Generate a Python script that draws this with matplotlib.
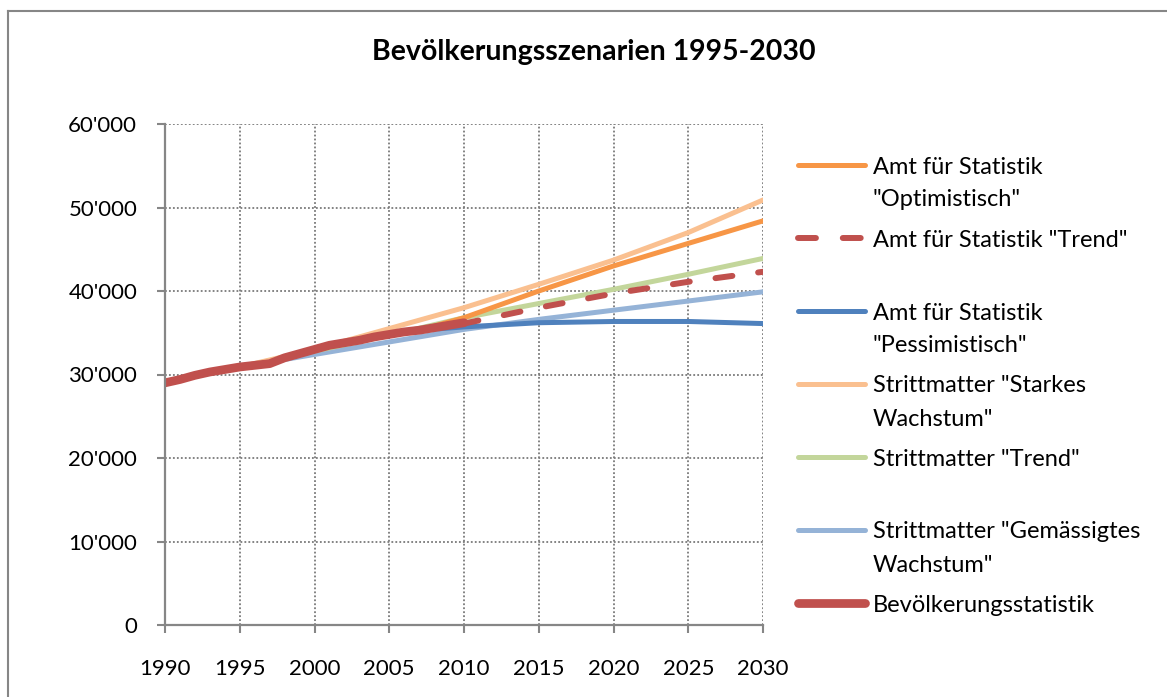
import matplotlib
matplotlib.use("Agg")
import matplotlib.pyplot as plt
from matplotlib.lines import Line2D
from matplotlib.ticker import FuncFormatter

# ---------------- data ----------------
years_hist = [1990, 1991, 1992, 1993, 1994, 1995, 1996, 1997, 1998, 1999, 2000,
              2001, 2002, 2003, 2004, 2005, 2006, 2007, 2008, 2009, 2010]
bevoelkerung = [29000, 29400, 29900, 30300, 30600, 30900, 31100, 31300, 32000, 32500, 33000,
                33500, 33800, 34100, 34500, 34800, 35100, 35300, 35600, 35900, 36200]

years_afs = [2007, 2010, 2015, 2020, 2025, 2030]
afs_optimistisch = [35300, 36800, 40000, 43000, 45700, 48400]
afs_trend = [35300, 36100, 38000, 39700, 41100, 42300]
afs_pessimistisch = [35300, 35700, 36200, 36350, 36350, 36100]

years_str = [1995, 2000, 2005, 2010, 2015, 2020, 2025, 2030]
str_starkes = [30900, 33000, 35500, 38000, 40800, 43700, 47000, 50900]
str_trend = [30900, 32800, 34700, 36800, 38500, 40200, 42000, 43900]
str_gemaessigt = [30900, 32400, 33900, 35400, 36600, 37700, 38800, 39900]

x_ticks = [1990, 1995, 2000, 2005, 2010, 2015, 2020, 2025, 2030]
y_ticks = [0, 10000, 20000, 30000, 40000, 50000, 60000]

labels = ['Amt für Statistik\n"Optimistisch"',
          'Amt für Statistik "Trend"',
          'Amt für Statistik\n"Pessimistisch"',
          'Strittmatter "Starkes\nWachstum"',
          'Strittmatter "Trend"',
          'Strittmatter "Gemässigtes\nWachstum"',
          'Bevölkerungsstatistik']
title = "Bevölkerungsszenarien 1995-2030"

# ---------------- style ----------------
FONT = "Lato"
plt.rcParams["font.family"] = [FONT, "DejaVu Sans"]
c_orange = "#F79646"
c_red = "#C0504D"
c_dblue = "#4F81BD"
c_peach = "#FAC090"
c_green = "#C3D69B"
c_lblue = "#95B3D7"
c_axis = "#868686"

W, H = 1167, 697
fig = plt.figure(figsize=(W / 100, H / 100), dpi=100)
ax = fig.add_axes([165 / W, 1 - 625 / H, (763 - 165) / W, (625 - 124) / H])

lw = 3.6
ax.plot(years_str, str_gemaessigt, color=c_lblue, lw=lw, solid_capstyle="round", zorder=3)
ax.plot(years_str, str_trend, color=c_green, lw=lw, solid_capstyle="round", zorder=3)
ax.plot(years_str, str_starkes, color=c_peach, lw=lw, solid_capstyle="round", zorder=3)
ax.plot(years_afs, afs_pessimistisch, color=c_dblue, lw=lw, solid_capstyle="round", zorder=4)
ax.plot(years_afs, afs_trend, color=c_red, lw=4.3, dashes=(2.85, 4.35),
        dash_capstyle="round", zorder=4)
ax.plot(years_afs, afs_optimistisch, color=c_orange, lw=lw, solid_capstyle="round", zorder=4)
ax.plot(years_hist, bevoelkerung, color=c_red, lw=6.3, solid_capstyle="round",
        solid_joinstyle="round", zorder=5)

ax.set_xlim(1990, 2030)
ax.set_ylim(0, 60000)
ax.set_xticks(x_ticks)
ax.set_yticks(y_ticks)
ax.yaxis.set_major_formatter(FuncFormatter(lambda v, p: "0" if v == 0 else f"{int(v):,}".replace(",", "'")))
ax.grid(True, color="#7a7a7a", linestyle=(0, (1, 1.2)), linewidth=1.3, zorder=1)
ax.set_axisbelow(True)
for s in ["top", "right"]:
    ax.spines[s].set_visible(False)
for s in ["left", "bottom"]:
    ax.spines[s].set_color(c_axis)
    ax.spines[s].set_linewidth(1.6)
    ax.spines[s].set_zorder(6)
ax.tick_params(axis="both", direction="out", length=6, width=1.5, color=c_axis,
               labelsize=16, labelcolor="black")
ax.tick_params(axis="x", pad=18.5)
ax.tick_params(axis="y", pad=14)

fig.text(594 / W, 1 - 52 / H, title, ha="center", va="center",
         fontsize=20.5, fontweight="bold")

# ---------------- legend (manual) ----------------
leg_styles = [
    dict(color=c_orange, lw=lw, solid_capstyle="round"),
    dict(color=c_red, lw=4.3, dashes=(3.0, 4.5), dash_capstyle="round"),
    dict(color=c_dblue, lw=lw, solid_capstyle="round"),
    dict(color=c_peach, lw=lw, solid_capstyle="round"),
    dict(color=c_green, lw=lw, solid_capstyle="round"),
    dict(color=c_lblue, lw=lw, solid_capstyle="round"),
    dict(color=c_red, lw=6.3, solid_capstyle="round"),
]
row_y = [165, 238, 311, 384, 457, 530, 603]
for lab, st, ry in zip(labels, leg_styles, row_y):
    yf = 1 - ry / H
    fig.add_artist(Line2D([798 / W, 865 / W], [yf, yf], transform=fig.transFigure, **st))
    for i, ln in enumerate(lab.split("\n")):
        fig.text(873 / W, 1 - (ry + 33 * i) / H, ln, ha="left", va="center_baseline",
                 fontsize=17)

# figure frame (left and top edges visible)
fig.add_artist(Line2D([8 / W, 8 / W], [0, 1 - 11 / H], transform=fig.transFigure,
                      color=c_axis, lw=1.5))
fig.add_artist(Line2D([8 / W, 1], [1 - 11 / H, 1 - 11 / H], transform=fig.transFigure,
                      color=c_axis, lw=1.5))

fig.savefig("out.png", dpi=100)
